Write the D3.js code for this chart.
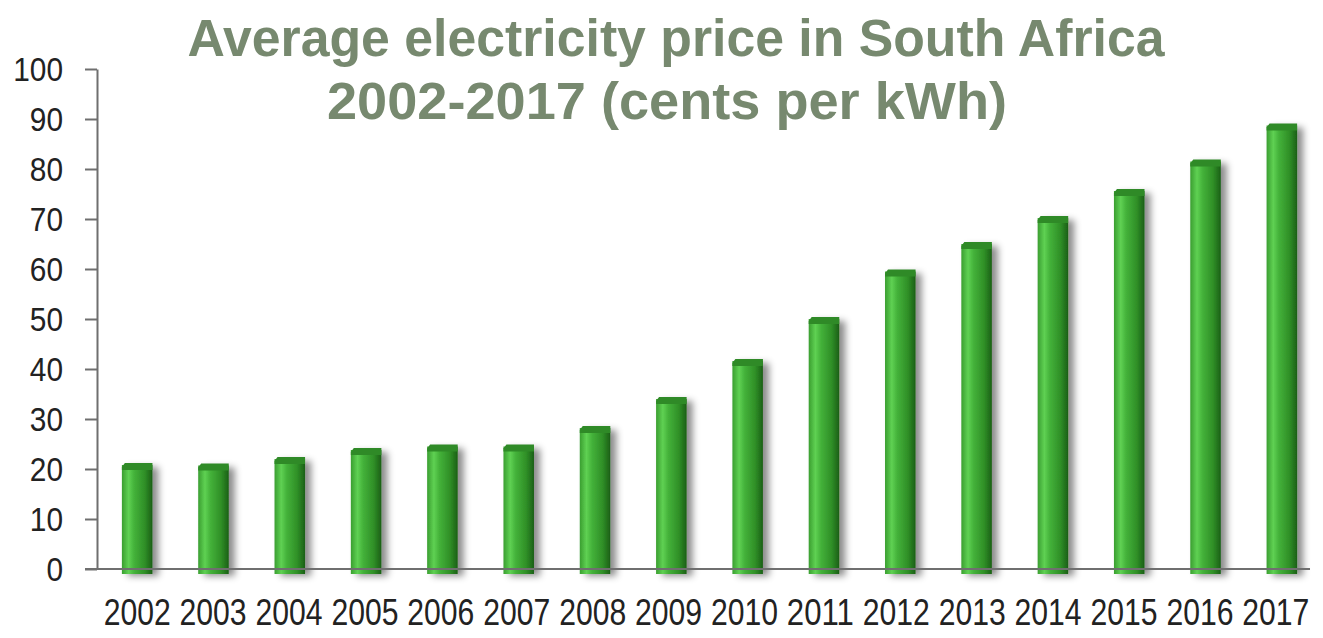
<!DOCTYPE html>
<html>
<head>
<meta charset="utf-8">
<script src="https://cdn.jsdelivr.net/npm/d3@7"></script>
<style>
  body { margin: 0; background: #fff; }
  svg { display: block; font-family: "Liberation Sans", Arial, sans-serif; }
</style>
</head>
<body>
<div id="chart"></div>
<script>
// data
const years = ["2002","2003","2004","2005","2006","2007","2008","2009",
               "2010","2011","2012","2013","2014","2015","2016","2017"];
const prices = [20.8, 20.7, 22.0, 23.8, 24.5, 24.5, 28.2, 34.0,
                41.6, 50.0, 59.5, 65.0, 70.2, 75.6, 81.5, 88.7];
const yTicks = [0, 10, 20, 30, 40, 50, 60, 70, 80, 90, 100];
const titleLines = ["Average electricity price in South Africa", "2002-2017 (cents per kWh)"];

const W = 1323, H = 638;
const margin = { top: 69, right: 3, bottom: 65, left: 99 };
const axisX = 97, axisEnd = 1310;

const svg = d3.select("#chart").append("svg")
  .attr("width", W)
  .attr("height", H);

const defs = svg.append("defs");

// bar gradient: lit stripe on the left, dark right edge
const grad = defs.append("linearGradient").attr("id", "barGrad")
  .attr("x1", "0%").attr("x2", "100%").attr("y1", "0%").attr("y2", "0%");
[["0%", "#3a9e30"], ["22%", "#5fd153"], ["40%", "#44b23a"],
 ["75%", "#2f8f27"], ["100%", "#1b5f16"]].forEach(([o, c]) =>
  grad.append("stop").attr("offset", o).attr("stop-color", c));

const shadow = defs.append("filter").attr("id", "shadow")
  .attr("x", "-30%").attr("y", "-10%").attr("width", "180%").attr("height", "130%");
shadow.append("feDropShadow")
  .attr("dx", 6).attr("dy", 2).attr("stdDeviation", 3.5)
  .attr("flood-color", "#000").attr("flood-opacity", 0.45);

const x = d3.scaleBand()
  .domain(years)
  .range([margin.left, W - margin.right])
  .paddingInner(0.6)
  .paddingOuter(0.3);

const y = d3.scaleLinear()
  .domain([0, 100])
  .range([H - margin.bottom - 4, margin.top]);

// title
const title = svg.append("text")
  .attr("text-anchor", "middle")
  .attr("fill", "#77896f")
  .attr("font-weight", "bold")
  .attr("font-size", 51);
title.append("tspan").attr("x", 676).attr("y", 56)
  .attr("textLength", 977).attr("lengthAdjust", "spacingAndGlyphs")
  .text(titleLines[0]);
title.append("tspan").attr("x", 667).attr("y", 119)
  .attr("textLength", 680).attr("lengthAdjust", "spacingAndGlyphs")
  .text(titleLines[1]);

// bars
const bars = svg.append("g");
bars.selectAll("rect.bar")
  .data(years)
  .join("rect")
  .attr("class", "bar")
  .attr("x", d => x(d))
  .attr("y", (d, i) => y(prices[i]))
  .attr("width", x.bandwidth())
  .attr("height", (d, i) => y(0) - y(prices[i]) + 5)
  .attr("fill", "url(#barGrad)")
  .attr("filter", "url(#shadow)");

// darker cap on top of each bar
bars.selectAll("path.cap")
  .data(years)
  .join("path")
  .attr("class", "cap")
  .attr("d", (d, i) => {
    const x0 = x(d), x1 = x0 + x.bandwidth(), yt = y(prices[i]);
    return `M${x0},${yt + 2}L${x0 + 3},${yt - 2}L${x1},${yt - 2}L${x1},${yt + 5}L${x0},${yt + 5}Z`;
  })
  .attr("fill", "#2f8a27");

// y axis
const yAxis = svg.append("g")
  .attr("transform", `translate(${axisX},0)`)
  .call(d3.axisLeft(y).tickValues(yTicks).tickSize(12).tickPadding(22).tickSizeOuter(0));
yAxis.select(".domain").attr("stroke", "#6f6f6f").attr("stroke-width", 2);
yAxis.selectAll(".tick line").attr("stroke", "#6f6f6f").attr("stroke-width", 2);
yAxis.selectAll(".tick text")
  .attr("font-size", 33)
  .attr("fill", "#222")
  .attr("font-family", "'Liberation Sans', Arial, sans-serif")
  .attr("dy", "0.36em")
  .attr("textLength", d => String(d).length * 16.6)
  .attr("lengthAdjust", "spacingAndGlyphs");

// x axis
const xAxis = svg.append("g")
  .attr("transform", `translate(0,${y(0)})`)
  .call(d3.axisBottom(x).tickSize(0).tickPadding(30).tickSizeOuter(0));
xAxis.select(".domain").attr("stroke", "#6f6f6f").attr("stroke-width", 2)
  .attr("d", `M${axisX - 12},0H${axisEnd}`);
xAxis.selectAll(".tick text")
  .attr("font-size", 36)
  .attr("fill", "#222")
  .attr("font-family", "'Liberation Sans', Arial, sans-serif")
  .attr("dx", (d, i) => -i * 0.4)
  .attr("textLength", 67)
  .attr("lengthAdjust", "spacingAndGlyphs");
</script>
</body>
</html>
